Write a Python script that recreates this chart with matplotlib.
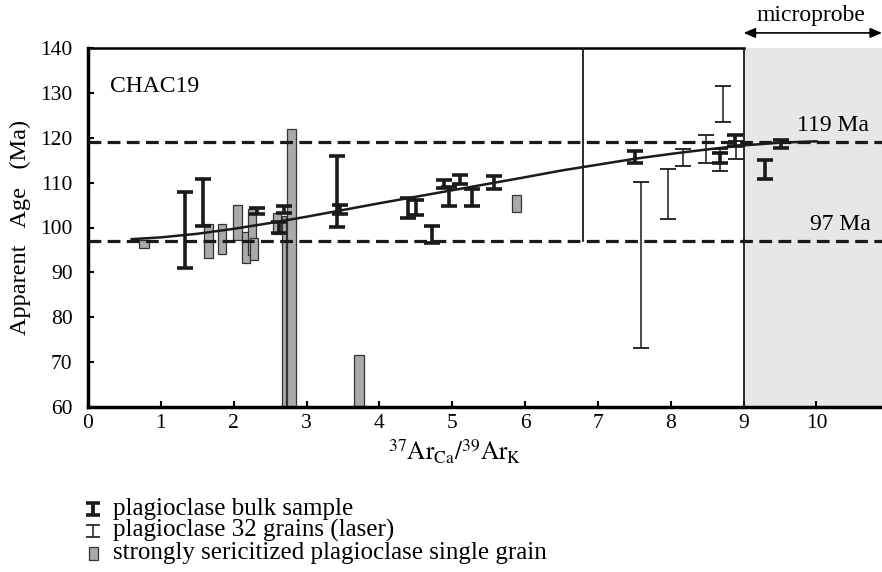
import matplotlib
matplotlib.use("Agg")
import matplotlib.pyplot as plt
import numpy as np
from matplotlib.patches import Rectangle

plt.rcParams['font.family'] = ['Liberation Serif', 'DejaVu Serif']
plt.rcParams['mathtext.fontset'] = 'stix'

# bulk plagioclase (thick bars): x, low, high age (Ma)
bulk_x = [1.33, 1.58, 2.32, 2.62, 2.69, 3.42, 3.46, 4.39, 4.50, 4.72,
          4.89, 4.96, 5.11, 5.27, 5.58, 7.51, 8.68, 8.88, 9.30, 9.51]
bulk_lo = [91.0, 100.3, 102.9, 98.7, 103.3, 100.2, 103.0, 102.2, 102.8, 96.6,
           108.7, 104.8, 109.7, 104.8, 108.5, 114.4, 114.3, 118.1, 110.8, 117.8]
bulk_hi = [107.8, 110.8, 104.3, 101.3, 104.8, 116.0, 105.1, 106.5, 106.1, 100.3,
           110.6, 109.1, 111.8, 108.6, 111.5, 117.1, 116.5, 120.6, 115.0, 119.5]

# laser, 32 grains (thin bars)
laser_x = [7.59, 7.96, 8.17, 8.48, 8.68, 8.72, 8.90]
laser_lo = [73.1, 101.9, 113.7, 114.3, 112.6, 123.6, 115.2]
laser_hi = [110.1, 113.1, 117.5, 120.6, 117.4, 131.5, 119.3]

# sericitized single grains (grey boxes)
grain_x = [0.77, 1.65, 1.84, 2.05, 2.17, 2.25, 2.28, 2.60, 2.69, 2.79, 3.72, 5.88]
grain_w = [0.13, 0.12, 0.12, 0.12, 0.12, 0.11, 0.12, 0.11, 0.06, 0.13, 0.13, 0.12]
grain_lo = [95.5, 93.2, 94.1, 97.3, 92.1, 93.9, 92.7, 98.5, 60.0, 60.0, 60.0, 103.4]
grain_hi = [97.2, 100.8, 100.8, 105.0, 99.0, 104.1, 97.6, 103.3, 102.5, 122.0, 71.6, 107.2]

# trend curve
curve_x = [0.6, 1.0, 1.5, 2.0, 2.5, 3.0, 4.0, 5.0, 6.0, 6.5, 7.0, 7.5, 8.0, 8.5, 9.0, 9.5, 10.0]
curve_y = [97.4, 97.8, 98.6, 99.7, 101.0, 102.4, 105.4, 108.3, 111.2, 112.7, 114.0,
           115.3, 116.4, 117.4, 118.3, 118.9, 119.2]

ref_ages = [119, 97]
split_x = 6.8
probe_x = 9.0

legend_labels = ['plagioclase bulk sample', 'plagioclase 32 grains (laser)',
                 'strongly sericitized plagioclase single grain']

INK = '#1a1a1a'
GREY = '#a8aaad'

fig = plt.figure(figsize=(8.82, 5.72), dpi=100)
ax = fig.add_axes([88 / 882, 1 - 407 / 572, 1 - 88 / 882, (407 - 48) / 572])
ax.set_xlim(0, 10.9)
ax.set_ylim(60, 140)

ax.axvspan(probe_x, 10.9, color='#e6e7e9', zorder=0, lw=0)

lo = np.array(grain_lo)
hi = np.array(grain_hi)
ax.bar(grain_x, hi - lo, bottom=lo, width=grain_w, color=GREY,
       edgecolor='#333333', linewidth=0.9, zorder=2)

for age in ref_ages:
    ax.axhline(age, color=INK, lw=2.3, ls=(0, (4.0, 2.0)), zorder=3)

ax.plot([split_x, split_x], [97, 140], color=INK, lw=1.3, zorder=3)
ax.axvline(probe_x, color=INK, lw=1.3, zorder=3)

ax.plot(curve_x, curve_y, color=INK, lw=1.8, zorder=4)

bl = np.array(bulk_lo)
bh = np.array(bulk_hi)
ax.errorbar(bulk_x, (bl + bh) / 2, yerr=(bh - bl) / 2, fmt='none',
            ecolor=INK, elinewidth=2.6, capsize=5.5, capthick=2.6, zorder=5)
ll = np.array(laser_lo)
lh = np.array(laser_hi)
ax.errorbar(laser_x, (ll + lh) / 2, yerr=(lh - ll) / 2, fmt='none',
            ecolor=INK, elinewidth=1.1, capsize=6, capthick=1.3, zorder=5)

ax.text(10.72, 120.4, '119 Ma', ha='right', va='bottom', fontsize=17)
ax.text(10.75, 98.4, '97 Ma', ha='right', va='bottom', fontsize=17)
ax.text(0.3, 131.5, 'CHAC19', ha='left', va='center', fontsize=17)

ax.annotate('', xy=(probe_x, 1.042), xytext=(10.9, 1.042),
            xycoords=('data', 'axes fraction'), textcoords=('data', 'axes fraction'),
            arrowprops=dict(arrowstyle='<|-|>,head_length=0.7,head_width=0.3',
                            color='black', lw=1.2, shrinkA=0, shrinkB=0),
            annotation_clip=False)
ax.text(9.93, 1.09, 'microprobe', transform=ax.get_xaxis_transform(),
        ha='center', va='center', fontsize=17)

ax.spines['right'].set_visible(False)
ax.spines['left'].set_linewidth(2.5)
ax.spines['bottom'].set_linewidth(2.5)
ax.spines['top'].set_linewidth(1.8)
ax.spines['top'].set_bounds(0, probe_x)

ax.set_xticks(range(0, 11))
ax.set_yticks(range(60, 141, 10))
ax.tick_params(axis='both', direction='in', length=4, width=1.5, labelsize=15.5)
ax.tick_params(axis='y', pad=11)
ax.tick_params(axis='x', pad=5)

ax.set_ylabel('Apparent   Age   (Ma)', fontsize=17.5)
ax.yaxis.set_label_coords(-0.072, 0.5)
ax.set_xlabel(r'$^{37}\mathrm{Ar}_{\mathrm{Ca}}/^{39}\mathrm{Ar}_{\mathrm{K}}$', fontsize=18)
ax.xaxis.set_label_coords(0.462, -0.085)

# legend below the plot, drawn in pixel coordinates of the figure
lax = fig.add_axes([0, 0, 1, 1], facecolor='none')
lax.set_xlim(0, 882)
lax.set_ylim(572, 0)
lax.axis('off')
rows = [509, 531, 553]
lax.errorbar([93], [rows[0]], yerr=[6], fmt='none', ecolor=INK,
             elinewidth=2.8, capsize=5, capthick=2.6)
lax.errorbar([93], [rows[1]], yerr=[6], fmt='none', ecolor=INK,
             elinewidth=1.1, capsize=5, capthick=1.2)
lax.add_patch(Rectangle((89, rows[2] - 6.5), 8.5, 13, facecolor=GREY,
                        edgecolor='#333333', lw=0.9))
for y, label in zip(rows, legend_labels):
    lax.text(113, y + 6, label, ha='left', va='baseline', fontsize=18)

fig.savefig('out.png', dpi=100)
